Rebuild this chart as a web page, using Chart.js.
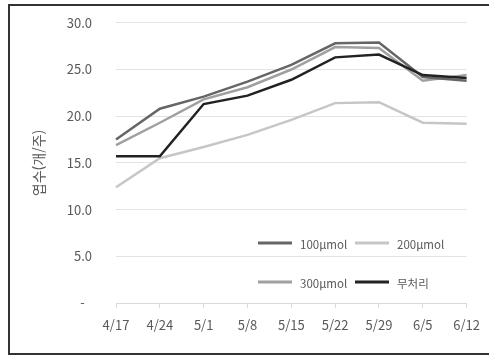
<!DOCTYPE html>
<html lang="ko">
<head>
    <meta charset="UTF-8">
    <title>엽수</title>
    <script src="https://cdn.jsdelivr.net/npm/chart.js@4.4.1/dist/chart.umd.min.js"></script>
    <style>
        html, body { margin: 0; padding: 0; background: #fff; overflow: hidden; }
        #frame {
            position: absolute; left: 8px; top: 4px; width: 490px; height: 347px;
            border-left: 2px solid #333; border-top: 2px solid #333; border-bottom: 2px solid #333;
        }
        /* canvas pulled up a bit so the plot top lands near y=23 */
        #wrap { position: absolute; left: 0; top: -9px; width: 489px; height: 364px; }
    </style>
</head>
<body>
<div id="frame"></div>
<div id="wrap"><canvas id="leafChart"></canvas></div>

<script>
    const dates = ["4/17", "4/24", "5/1", "5/8", "5/15", "5/22", "5/29", "6/5", "6/12"];
    const seriesNames = ["100μmol", "200μmol", "300μmol", "무처리"];
    const t100 = [17.5, 20.8, 22.1, 23.7, 25.5, 27.8, 27.9, 24.2, 23.8];
    const t200 = [12.4, 15.5, 16.7, 18.0, 19.6, 21.4, 21.5, 19.3, 19.2];
    const t300 = [16.9, 19.3, 21.8, 23.1, 25.0, 27.4, 27.3, 23.8, 24.4];
    const control = [15.7, 15.7, 21.3, 22.2, 23.9, 26.3, 26.6, 24.4, 24.1];
    const yTicks = [0, 5, 10, 15, 20, 25, 30];

    const colors = ["#666666", "#c6c6c6", "#a0a0a0", "#222222"];
    const font = "'Noto Sans CJK KR', 'Noto Sans', sans-serif";

    // legend drawn inside the plot, 2 columns like the Excel original
    const boxLegend = {
        id: "boxLegend",
        afterDraw(chart) {
            const ctx = chart.ctx;
            const slots = [[258, 252], [355, 252], [258, 291], [355, 291]];
            ctx.save();
            ctx.font = "11.5px " + font;
            ctx.textBaseline = "middle";
            ctx.fillStyle = "#595959";
            chart.data.datasets.forEach((ds, i) => {
                const [x, y] = slots[i];
                ctx.strokeStyle = ds.borderColor;
                ctx.lineWidth = 3;
                ctx.beginPath();
                ctx.moveTo(x, y);
                ctx.lineTo(x + 34, y);
                ctx.stroke();
                ctx.fillText(ds.label, x + 42, y + 2);
            });
            ctx.restore();
        }
    };

    const mk = (i, data, order) => ({
        label: seriesNames[i],
        data: data,
        borderColor: colors[i],
        backgroundColor: colors[i],
        borderWidth: 2.5,
        pointRadius: 0,
        tension: 0,
        order: order
    });

    new Chart(document.getElementById("leafChart"), {
        type: "line",
        data: {
            labels: dates,
            datasets: [mk(0, t100, 1), mk(1, t200, 3), mk(2, t300, 2), mk(3, control, 0)]
        },
        options: {
            responsive: true,
            maintainAspectRatio: false,
            animation: false,
            layout: { padding: { left: 25, right: 19, top: 5, bottom: 0 } },
            plugins: { legend: { display: false }, tooltip: { enabled: false } },
            scales: {
                x: {
                    offset: false,
                    afterFit: (s) => { s.height = 52; },
                    grid: { drawOnChartArea: false, drawTicks: true, tickLength: 5, color: "#d9d9d9" },
                    border: { color: "#d9d9d9" },
                    ticks: { color: "#595959", font: { family: font, size: 13 }, padding: 9, maxRotation: 0, autoSkip: false }
                },
                y: {
                    min: 0, max: 30,
                    afterFit: (s) => { s.width = 116 - 25; },
                    afterBuildTicks: (s) => { s.ticks = yTicks.map(v => ({ value: v })); },
                    grid: { color: "#e3e3e3", drawTicks: false },
                    border: { display: false },
                    ticks: {
                        color: "#595959", font: { family: font, size: 13 }, padding: 24,
                        callback: (v) => v === 0 ? "-  " : v.toFixed(1)
                    },
                    title: {
                        display: true, text: "엽수(개/주)", color: "#595959",
                        font: { family: font, size: 14 }, padding: { top: 5, bottom: 0 }
                    }
                }
            }
        },
        plugins: [boxLegend]
    });
</script>
</body>
</html>
